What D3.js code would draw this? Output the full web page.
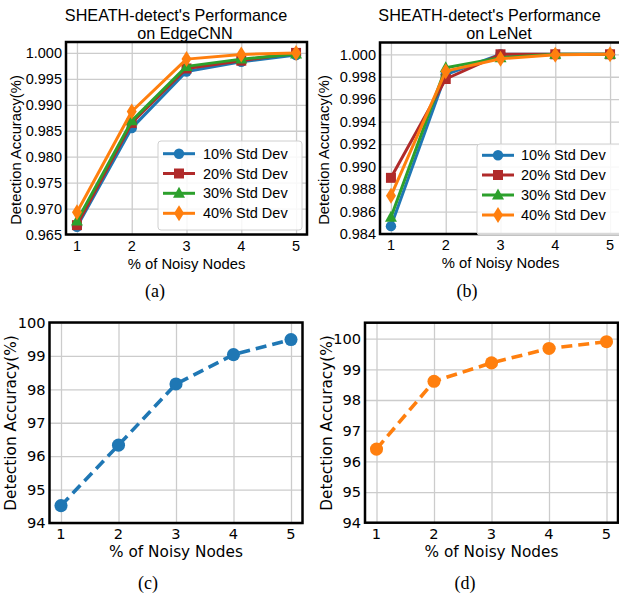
<!DOCTYPE html>
<html>
<head>
<meta charset="utf-8">
<script src="https://cdn.jsdelivr.net/npm/d3@7"></script>
<style>
  body { margin: 0; background: #fff; }
  svg { display: block; }
</style>
</head>
<body>
<div id="chart"></div>
<script>
// noisy node percentages (x axis)
const noisyNodes = [1, 2, 3, 4, 5];

const stdDevLabels = ["10% Std Dev", "20% Std Dev", "30% Std Dev", "40% Std Dev"];

// (a) EdgeCNN
const edgeStd10 = [0.9665, 0.9855, 0.9964, 0.9983, 0.9996];
const edgeStd20 = [0.9668, 0.9865, 0.9970, 0.9985, 1.0000];
const edgeStd30 = [0.9676, 0.9869, 0.9974, 0.9988, 0.9998];
const edgeStd40 = [0.9693, 0.9887, 0.9988, 0.9997, 1.0000];

// (b) LeNet
const lenetStd10 = [0.9847, 0.9982, 1.0000, 1.0000, 1.0000];
const lenetStd20 = [0.9890, 0.9978, 1.0000, 1.0000, 1.0000];
const lenetStd30 = [0.9855, 0.9988, 0.9997, 1.0000, 1.0000];
const lenetStd40 = [0.9874, 0.9985, 0.9996, 0.99995, 1.0000];

// (c) and (d) single series, in percent
const accuracyC = [94.52, 96.33, 98.16, 99.04, 99.49];
const accuracyD = [96.40, 98.61, 99.21, 99.68, 99.90];

const ticksA = [0.965, 0.970, 0.975, 0.980, 0.985, 0.990, 0.995, 1.000];
const ticksB = [0.984, 0.986, 0.988, 0.990, 0.992, 0.994, 0.996, 0.998, 1.000];
const ticksCD = [94, 95, 96, 97, 98, 99, 100];

const colors = ["#1f77b4", "#b02a2a", "#2ca02c", "#ff7f0e"];
const markers = ["circle", "square", "triangle", "diamond"];

const width = 619, height = 598;

const svg = d3.select("#chart")
    .append("svg")
    .attr("width", width)
    .attr("height", height);

const sansA = "'Liberation Sans', Arial, sans-serif";
const sansC = "'DejaVu Sans', sans-serif";

function markerPath(kind) {
    if (kind === "circle") return d3.symbol(d3.symbolCircle, 85)();
    if (kind === "bigcircle") return d3.symbol(d3.symbolCircle, 135)();
    if (kind === "square") return d3.symbol(d3.symbolSquare, 100)();
    if (kind === "triangle") return "M0,-6.5L6,4.5L-6,4.5Z";
    return "M0,-8L5,0L0,8L-5,0Z";
}

function drawPanel(cfg) {
    const x = d3.scaleLinear().domain([0.8, 5.2]).range(cfg.xRange);
    const y = d3.scaleLinear().domain(cfg.yDomain).range(cfg.yRange);
    const g = svg.append("g");
    const font = cfg.font;

    // grid
    g.append("g")
        .attr("transform", `translate(0,${cfg.yRange[0]})`)
        .call(d3.axisBottom(x).tickValues(noisyNodes).tickSize(-(cfg.yRange[0] - cfg.yRange[1])).tickFormat(""))
        .call(a => a.select(".domain").remove())
        .call(a => a.selectAll("line").attr("stroke", "#cccccc").attr("stroke-width", 1.3));
    g.append("g")
        .attr("transform", `translate(${cfg.xRange[0]},0)`)
        .call(d3.axisLeft(y).tickValues(cfg.yTicks).tickSize(-(cfg.xRange[1] - cfg.xRange[0])).tickFormat(""))
        .call(a => a.select(".domain").remove())
        .call(a => a.selectAll("line").attr("stroke", "#cccccc").attr("stroke-width", 1.3));

    // tick labels
    g.selectAll(".xt")
        .data(noisyNodes)
        .join("text")
        .attr("x", d => x(d))
        .attr("y", cfg.yRange[0] + 16)
        .attr("text-anchor", "middle")
        .style("font-family", font)
        .style("font-size", cfg.tickSize + "px")
        .text(d => d);
    g.selectAll(".yt")
        .data(cfg.yTicks)
        .join("text")
        .attr("x", cfg.xRange[0] - 4)
        .attr("y", d => y(d) + cfg.tickSize * 0.36)
        .attr("text-anchor", "end")
        .style("font-family", font)
        .style("font-size", cfg.tickSize + "px")
        .text(d => cfg.yFormat(d));

    // series
    const line = d3.line().x((d, i) => x(noisyNodes[i])).y(d => y(d));
    cfg.series.forEach((s, k) => {
        const col = cfg.seriesColors[k];
        g.append("path")
            .datum(s)
            .attr("d", line)
            .attr("fill", "none")
            .attr("stroke", col)
            .attr("stroke-width", cfg.lineWidth)
            .attr("stroke-dasharray", cfg.dash || null)
            .attr("stroke-linejoin", "round");
        g.selectAll(null)
            .data(s)
            .join("path")
            .attr("transform", (d, i) => `translate(${x(noisyNodes[i])},${y(d)})`)
            .attr("d", markerPath(cfg.seriesMarkers[k]))
            .attr("fill", col);
    });

    // frame
    g.append("rect")
        .attr("x", cfg.xRange[0])
        .attr("y", cfg.yRange[1])
        .attr("width", cfg.xRange[1] - cfg.xRange[0])
        .attr("height", cfg.yRange[0] - cfg.yRange[1])
        .attr("fill", "none")
        .attr("stroke", "#000")
        .attr("stroke-width", 2.5);

    // legend
    if (cfg.legend) {
        const L = cfg.legend;
        g.append("rect")
            .attr("x", L.x).attr("y", L.y)
            .attr("width", L.w).attr("height", L.h)
            .attr("rx", 3)
            .attr("fill", "#fff").attr("fill-opacity", 0.85)
            .attr("stroke", "#d0d0d0");
        stdDevLabels.forEach((lab, k) => {
            const ly = L.rows[k];
            g.append("line")
                .attr("x1", L.lx).attr("x2", L.lx + 32)
                .attr("y1", ly).attr("y2", ly)
                .attr("stroke", colors[k]).attr("stroke-width", 3);
            g.append("path")
                .attr("transform", `translate(${L.lx + 16},${ly})`)
                .attr("d", markerPath(markers[k]))
                .attr("fill", colors[k]);
            g.append("text")
                .attr("x", L.tx).attr("y", ly + 5)
                .style("font-family", font)
                .style("font-size", "14.5px")
                .text(lab);
        });
    }

    // axis labels
    const xMid = (cfg.xRange[0] + cfg.xRange[1]) / 2;
    g.append("text")
        .attr("x", xMid)
        .attr("y", cfg.yRange[0] + 34)
        .attr("text-anchor", "middle")
        .style("font-family", font)
        .style("font-size", cfg.labelSize + "px")
        .text("% of Noisy Nodes");
    g.append("text")
        .attr("transform", `translate(${cfg.yLabelX},${cfg.yLabelY}) rotate(-90)`)
        .attr("text-anchor", "middle")
        .style("font-family", font)
        .style("font-size", cfg.labelSize + "px")
        .text("Detection Accuracy(%)");

    // title
    if (cfg.title) {
        cfg.title.forEach((t, i) => {
            g.append("text")
                .attr("x", cfg.titleX[i])
                .attr("y", 21 + i * 17.5)
                .attr("text-anchor", "middle")
                .style("font-family", font)
                .style("font-size", "16.2px")
                .text(t);
        });
    }

    // caption
    g.append("text")
        .attr("x", cfg.caption.x)
        .attr("y", cfg.caption.y)
        .attr("text-anchor", "middle")
        .style("font-family", "'Liberation Serif', 'Times New Roman', serif")
        .style("font-size", "18px")
        .text(cfg.caption.text);
}

const fmt3 = d3.format(".3f");

drawPanel({
    xRange: [66, 307], yDomain: [0.965, 1.0021], yRange: [234.5, 42],
    yTicks: ticksA, yFormat: fmt3, font: sansA, tickSize: 14.5, labelSize: 14.8,
    series: [edgeStd10, edgeStd20, edgeStd30, edgeStd40],
    seriesColors: colors, seriesMarkers: markers, lineWidth: 3,
    legend: { x: 158, y: 141, w: 144, h: 89, rows: [153.7, 173.5, 193.3, 213.3], lx: 163, tx: 203 },
    yLabelX: 21, yLabelY: 150,
    title: ["SHEATH-detect's Performance", "on EdgeCNN"], titleX: [176, 185],
    caption: { x: 155, y: 297, text: "(a)" }
});

drawPanel({
    xRange: [380, 621], yDomain: [0.984, 1.00105], yRange: [234, 42.5],
    yTicks: ticksB, yFormat: fmt3, font: sansA, tickSize: 14.5, labelSize: 14.8,
    series: [lenetStd10, lenetStd20, lenetStd30, lenetStd40],
    seriesColors: colors, seriesMarkers: markers, lineWidth: 3,
    legend: { x: 477, y: 144, w: 146, h: 91, rows: [155.3, 175, 195, 215], lx: 482, tx: 521 },
    yLabelX: 329, yLabelY: 150,
    title: ["SHEATH-detect's Performance", "on LeNet"], titleX: [489.5, 499],
    caption: { x: 467, y: 297, text: "(b)" }
});

drawPanel({
    xRange: [49.5, 302.5], yDomain: [94, 100], yRange: [523, 322.5],
    yTicks: ticksCD, yFormat: d => d, font: sansC, tickSize: 14.6, labelSize: 15.3,
    series: [accuracyC], seriesColors: [colors[0]], seriesMarkers: ["bigcircle"],
    lineWidth: 3.6, dash: "11,6",
    yLabelX: 16, yLabelY: 423,
    caption: { x: 148, y: 589, text: "(c)" }
});

drawPanel({
    xRange: [365, 618], yDomain: [94, 100.52], yRange: [522.7, 322.7],
    yTicks: ticksCD, yFormat: d => d, font: sansC, tickSize: 14.6, labelSize: 15.3,
    series: [accuracyD], seriesColors: [colors[3]], seriesMarkers: ["bigcircle"],
    lineWidth: 3.6, dash: "11,6",
    yLabelX: 332, yLabelY: 423,
    caption: { x: 465, y: 589, text: "(d)" }
});
</script>
</body>
</html>
